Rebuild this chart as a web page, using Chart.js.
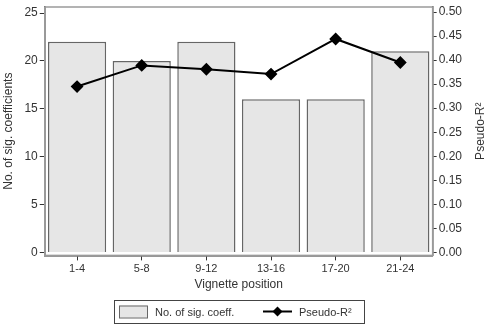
<!DOCTYPE html>
<html lang="en">
<head>
  <meta charset="UTF-8" />
  <title>Vignette position</title>
  <script src="https://cdn.jsdelivr.net/npm/chart.js@4.4.1/dist/chart.umd.min.js"></script>
  <style>
    html, body { margin: 0; padding: 0; background: #fff; }
    #wrap { width: 488px; height: 326px; }
  </style>
</head>
<body>
  <div id="wrap"><canvas id="chart"></canvas></div>
  <script>
    // data
    const positions = ["1-4", "5-8", "9-12", "13-16", "17-20", "21-24"];
    const sigCoeff = [22, 20, 22, 16, 16, 21];
    const pseudoR2 = [0.345, 0.389, 0.381, 0.371, 0.444, 0.395];
    const leftTicks = [0, 5, 10, 15, 20, 25];
    const rightTicks = [0, 0.05, 0.1, 0.15, 0.2, 0.25, 0.3, 0.35, 0.4, 0.45, 0.5];

    const FONT = "'Liberation Sans', Arial, sans-serif";
    const textCol = "#333";
    const barLabel = "No. of sig. coeff.";
    const lineLabel = "Pseudo-R²";

    function setTicks(list) {
      return function (scale) {
        scale.ticks = list.map(v => ({ value: v }));
      };
    }

    // let the plot box reach the top, the tick labels fit anyway
    function noTopPad(scale) {
      scale.paddingTop = 0;
    }

    // gray frame around the plot region
    const frame = {
      id: "frame",
      beforeDatasetsDraw(chart) {
        const a = chart.chartArea, ctx = chart.ctx;
        ctx.save();
        ctx.strokeStyle = "#9a9a9a";
        ctx.lineWidth = 1.5;
        ctx.strokeRect(a.left, a.top, a.right - a.left, a.bottom - a.top);
        ctx.restore();
      }
    };

    // right axis title, read bottom to top like the left one
    const rightTitle = {
      id: "rightTitle",
      afterDraw(chart) {
        const a = chart.chartArea, ctx = chart.ctx;
        ctx.save();
        ctx.translate(481, (a.top + a.bottom) / 2);
        ctx.rotate(-Math.PI / 2);
        ctx.fillStyle = textCol;
        ctx.font = "12px " + FONT;
        ctx.textAlign = "center";
        ctx.textBaseline = "middle";
        ctx.fillText(lineLabel, 0, 0);
        ctx.restore();
      }
    };

    // boxed legend under the chart
    const boxLegend = {
      id: "boxLegend",
      afterDraw(chart) {
        const ctx = chart.ctx;
        const x0 = 114, y0 = 300, w = 250, h = 23;
        const cy = y0 + h / 2;
        ctx.save();
        ctx.fillStyle = "#fff";
        ctx.fillRect(x0, y0, w, h);
        ctx.strokeStyle = "#444";
        ctx.lineWidth = 1;
        ctx.strokeRect(x0 + 0.5, y0 + 0.5, w, h);

        // bar swatch
        ctx.fillStyle = "#e6e6e6";
        ctx.fillRect(119, cy - 6, 28, 12);
        ctx.strokeStyle = "#666";
        ctx.strokeRect(119.5, cy - 6 + 0.5, 28, 12);

        // line swatch with diamond
        ctx.strokeStyle = "#000";
        ctx.lineWidth = 2;
        ctx.beginPath();
        ctx.moveTo(263, cy);
        ctx.lineTo(292, cy);
        ctx.stroke();
        ctx.fillStyle = "#000";
        ctx.beginPath();
        ctx.moveTo(277.5, cy - 5);
        ctx.lineTo(282.5, cy);
        ctx.lineTo(277.5, cy + 5);
        ctx.lineTo(272.5, cy);
        ctx.closePath();
        ctx.fill();

        ctx.fillStyle = textCol;
        ctx.font = "11px " + FONT;
        ctx.textBaseline = "middle";
        ctx.fillText(barLabel, 155, cy + 1);
        ctx.fillText(lineLabel, 299, cy + 1);
        ctx.restore();
      }
    };

    new Chart(document.getElementById("chart"), {
      type: "bar",
      data: {
        labels: positions,
        datasets: [
          {
            type: "line",
            label: lineLabel,
            data: pseudoR2,
            yAxisID: "y1",
            borderColor: "#000",
            backgroundColor: "#000",
            borderWidth: 2,
            pointStyle: "rectRot",
            pointRadius: 5,
            pointHoverRadius: 5,
            tension: 0,
            order: 0
          },
          {
            type: "bar",
            label: barLabel,
            data: sigCoeff,
            yAxisID: "y",
            backgroundColor: "#e6e6e6",
            borderColor: "#666",
            borderWidth: 1.5,
            barPercentage: 0.9,
            categoryPercentage: 1.0,
            order: 1
          }
        ]
      },
      options: {
        responsive: true,
        maintainAspectRatio: false,
        animation: false,
        layout: { padding: { top: 5, right: 24, bottom: 34, left: 1 } },
        plugins: {
          legend: { display: false },
          tooltip: { enabled: false }
        },
        scales: {
          x: {
            grid: { display: true, drawOnChartArea: false, offset: false, color: "#333", tickLength: 5 },
            border: { color: "#333", width: 1.5 },
            ticks: { color: textCol, font: { family: FONT, size: 11 }, padding: 2 },
            title: { display: true, text: "Vignette position", color: textCol, font: { family: FONT, size: 12 }, padding: { top: 0, bottom: 0 } }
          },
          y: {
            position: "left",
            min: -0.315,
            max: 25.63,
            afterBuildTicks: setTicks(leftTicks),
            afterFit: noTopPad,
            grid: { drawOnChartArea: false, color: "#333", tickLength: 5 },
            border: { color: "#333", width: 1.5 },
            ticks: { color: textCol, font: { family: FONT, size: 12 }, padding: 2 },
            title: { display: true, text: "No. of sig. coefficients", color: textCol, font: { family: FONT, size: 12 }, padding: { top: 0, bottom: 7 } }
          },
          y1: {
            position: "right",
            min: -0.0063,
            max: 0.5105,
            afterBuildTicks: setTicks(rightTicks),
            afterFit: noTopPad,
            grid: { drawOnChartArea: false, color: "#333", tickLength: 4 },
            border: { color: "#555", width: 1.5 },
            ticks: { color: textCol, font: { family: FONT, size: 12 }, padding: 2, callback: v => v.toFixed(2) }
          }
        }
      },
      plugins: [frame, rightTitle, boxLegend]
    });
  </script>
</body>
</html>
